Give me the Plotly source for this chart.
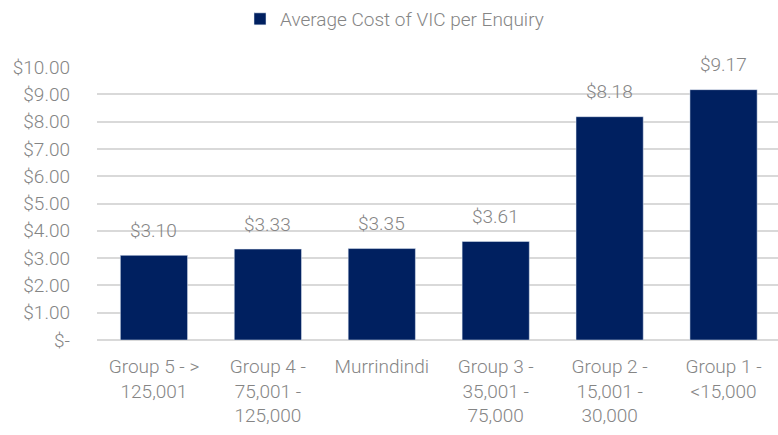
import plotly.graph_objects as go

categories = [
    "Group 5 - &gt;<br>125,001",
    "Group 4 -<br>75,001 -<br>125,000",
    "Murrindindi",
    "Group 3 -<br>35,001 -<br>75,000",
    "Group 2 -<br>15,001 -<br>30,000",
    "Group 1 -<br>&lt;15,000",
]
avg_cost = [3.10, 3.33, 3.35, 3.61, 8.18, 9.17]
series_name = "Average Cost of VIC per Enquiry"
tick_vals = [0, 1, 2, 3, 4, 5, 6, 7, 8, 9, 10]
tick_text = ["$-"] + [f"${v:.2f}" for v in tick_vals[1:]]

NAVY = "#002060"
GREY_TEXT = "#858585"
GRID = "#d9d9d9"
FONT = dict(family="Roboto", size=19, color=GREY_TEXT, weight=300)

x_pos = list(range(len(categories)))

fig = go.Figure(
    go.Bar(
        x=x_pos,
        y=avg_cost,
        name=series_name,
        marker=dict(color=NAVY),
        showlegend=True,
    )
)

# value labels floating above each bar
for xi, v in zip(x_pos, avg_cost):
    fig.add_annotation(
        x=xi, y=v, text=f"${v:.2f}", showarrow=False,
        yanchor="middle", yshift=25, font=FONT,
    )

fig.update_layout(
    width=778,
    height=435,
    margin=dict(l=97, r=0, t=67, b=95),
    paper_bgcolor="white",
    plot_bgcolor="white",
    font=FONT,
    bargap=0.41,
    showlegend=True,
    legend=dict(
        orientation="h",
        xref="container",
        yref="container",
        x=240 / 778,
        y=1.0,
        xanchor="left",
        yanchor="top",
        font=FONT,
        itemwidth=30,
    ),
    xaxis=dict(
        range=[-0.5, 5.478],
        tickmode="array",
        tickvals=x_pos,
        ticktext=categories,
        showgrid=False,
        showline=False,
        ticks="",
        zeroline=False,
        ticklabelstandoff=13,
        tickfont=FONT,
    ),
    yaxis=dict(
        range=[0, 10],
        tickmode="array",
        tickvals=tick_vals,
        ticktext=tick_text,
        showgrid=True,
        gridcolor=GRID,
        gridwidth=2,
        zeroline=True,
        zerolinecolor=GRID,
        zerolinewidth=2,
        showline=False,
        ticks="",
        ticklabelstandoff=26,
        tickfont=FONT,
    ),
)

fig.write_html("out.html")
